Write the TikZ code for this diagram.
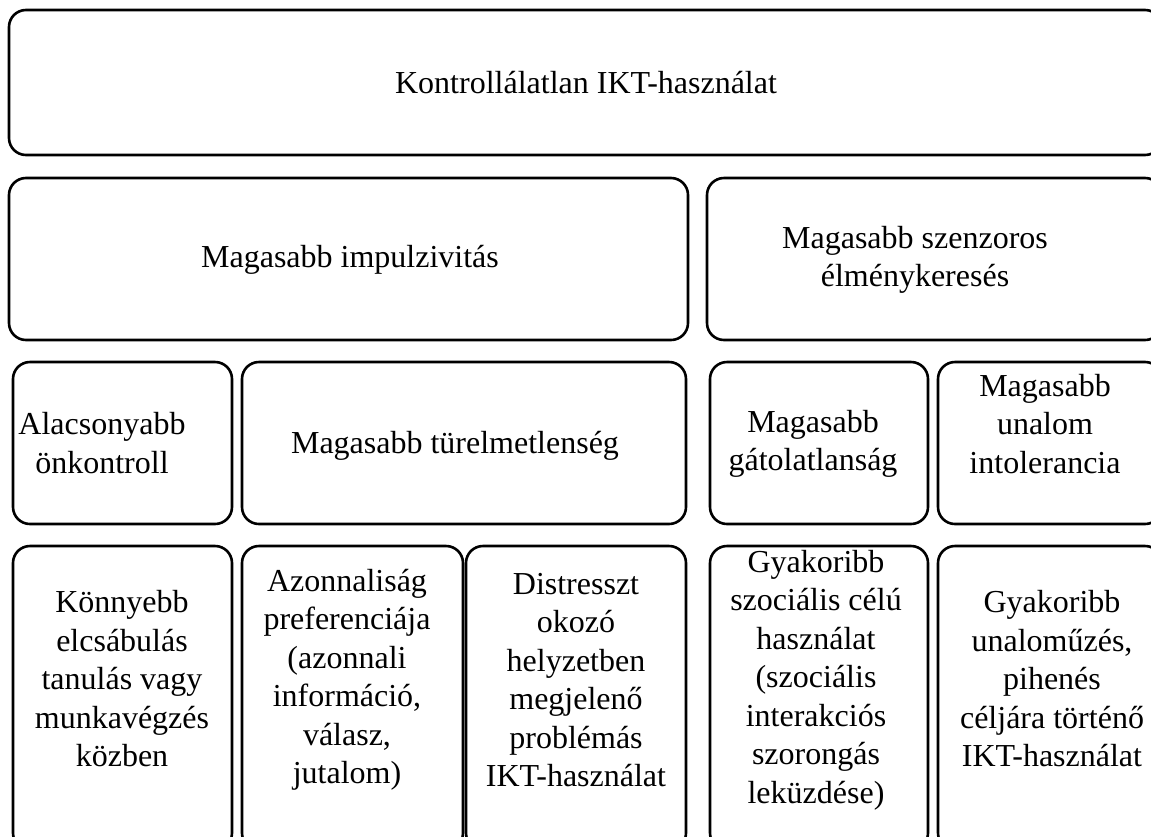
\documentclass[tikz,border=0pt]{standalone}
\usepackage{fontspec}
\setmainfont{Liberation Serif}
\begin{document}
\begin{tikzpicture}[x=1pt,y=-1pt,
  box/.style={draw=black, line width=2.6pt, rounded corners=17pt, anchor=north west, inner sep=0pt, outer sep=0pt},
  lbl/.style={align=center, font=\fontsize{32}{38.5}\selectfont, inner sep=0pt, text=black}]
\useasboundingbox (0,0) rectangle (1151,836);
\clip (0,0) rectangle (1151,836);
% boxes
\node[box, minimum width=1153pt, minimum height=145pt] (b0) at (9,10) {};
\node[box, minimum width=679pt, minimum height=162pt] (b1) at (9,178) {};
\node[box, minimum width=455pt, minimum height=162pt] (b2) at (707,178) {};
\node[box, minimum width=219pt, minimum height=162pt] (b31) at (13,362) {};
\node[box, minimum width=444pt, minimum height=162pt] (b32) at (242,362) {};
\node[box, minimum width=218pt, minimum height=162pt] (b33) at (710,362) {};
\node[box, minimum width=224pt, minimum height=162pt] (b34) at (938,362) {};
\node[box, minimum width=219pt, minimum height=304pt] (b41) at (13,546) {};
\node[box, minimum width=221pt, minimum height=304pt] (b42) at (242,546) {};
\node[box, minimum width=220pt, minimum height=304pt] (b43) at (466,546) {};
\node[box, minimum width=218pt, minimum height=304pt] (b44) at (710,546) {};
\node[box, minimum width=224pt, minimum height=304pt] (b45) at (938,546) {};
% labels
\node[lbl] (t0) at (586,83) {Kontrollálatlan IKT-használat};
\node[lbl] (t1) at (350,260) {Magasabb impulzivitás};
\node[lbl] (t2) at (915,260) {Magasabb szenzoros\\élménykeresés};
\node[lbl] (t31) at (102,443) {Alacsonyabb\\önkontroll};
\node[lbl] (t32) at (455,446) {Magasabb türelmetlenség};
\node[lbl] (t33) at (813,444) {Magasabb\\gátolatlanság};
\node[lbl] (t34) at (1045,424) {Magasabb\\unalom\\intolerancia};
\node[lbl] (t41) at (122,679) {Könnyebb\\elcsábulás\\tanulás vagy\\munkavégzés\\közben};
\node[lbl] (t42) at (347,680) {Azonnaliság\\preferenciája\\(azonnali\\információ,\\válasz,\\jutalom)};
\node[lbl] (t43) at (576,680) {Distresszt\\okozó\\helyzetben\\megjelenő\\problémás\\IKT-használat};
\node[lbl] (t44) at (816,680) {Gyakoribb\\szociális célú\\használat\\(szociális\\interakciós\\szorongás\\leküzdése)};
\node[lbl] (t45) at (1052,679) {Gyakoribb\\unaloműzés,\\pihenés\\céljára történő\\IKT-használat};
\end{tikzpicture}
\end{document}
